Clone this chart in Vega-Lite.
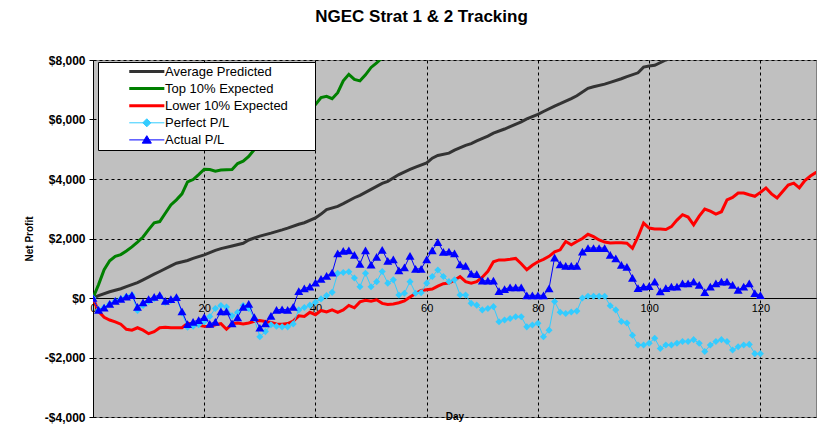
{
  "$schema": "https://vega.github.io/schema/vega-lite/v6.json",
  "width": 723,
  "height": 357,
  "autosize": {"type": "none"},
  "padding": {"left": 93, "top": 60, "right": 10, "bottom": 15},
  "background": "white",
  "config": {
    "font": "Liberation Sans",
    "view": {"fill": "#C0C0C0", "stroke": "#808080"}
  },
  "title": {
    "text": "NGEC Strat 1 & 2 Tracking",
    "fontSize": 17,
    "fontWeight": "bold",
    "color": "black",
    "dx": -33,
    "offset": 28
  },
  "datasets": {
    "average": [
      {"day": 0, "profit": 0}, {"day": 1, "profit": 80}, {"day": 3, "profit": 210}, {"day": 5, "profit": 310},
      {"day": 6, "profit": 380}, {"day": 8, "profit": 520}, {"day": 9, "profit": 610}, {"day": 11, "profit": 800},
      {"day": 12, "profit": 890}, {"day": 14, "profit": 1080}, {"day": 15, "profit": 1170}, {"day": 17, "profit": 1260},
      {"day": 18, "profit": 1330}, {"day": 20, "profit": 1450}, {"day": 22, "profit": 1600}, {"day": 23, "profit": 1660},
      {"day": 25, "profit": 1750}, {"day": 27, "profit": 1840}, {"day": 28, "profit": 1950}, {"day": 30, "profit": 2080},
      {"day": 32, "profit": 2180}, {"day": 34, "profit": 2290}, {"day": 35, "profit": 2350}, {"day": 37, "profit": 2480},
      {"day": 38, "profit": 2530}, {"day": 40, "profit": 2690}, {"day": 41, "profit": 2820}, {"day": 42, "profit": 2970},
      {"day": 44, "profit": 3080}, {"day": 45, "profit": 3170}, {"day": 47, "profit": 3370}, {"day": 48, "profit": 3450},
      {"day": 50, "profit": 3650}, {"day": 52, "profit": 3850}, {"day": 53, "profit": 3920}, {"day": 55, "profit": 4150},
      {"day": 57, "profit": 4320}, {"day": 58, "profit": 4400}, {"day": 60, "profit": 4540}, {"day": 61, "profit": 4700},
      {"day": 62, "profit": 4790}, {"day": 64, "profit": 4870}, {"day": 65, "profit": 4970}, {"day": 67, "profit": 5130},
      {"day": 68, "profit": 5190}, {"day": 69, "profit": 5280}, {"day": 71, "profit": 5440}, {"day": 72, "profit": 5540},
      {"day": 74, "profit": 5680}, {"day": 75, "profit": 5760}, {"day": 77, "profit": 5920}, {"day": 78, "profit": 6020},
      {"day": 80, "profit": 6170}, {"day": 81, "profit": 6270}, {"day": 83, "profit": 6450}, {"day": 84, "profit": 6530},
      {"day": 86, "profit": 6700}, {"day": 87, "profit": 6800}, {"day": 89, "profit": 7050}, {"day": 90, "profit": 7100},
      {"day": 92, "profit": 7190}, {"day": 93, "profit": 7250}, {"day": 95, "profit": 7370}, {"day": 96, "profit": 7440},
      {"day": 98, "profit": 7570}, {"day": 99, "profit": 7760}, {"day": 100, "profit": 7800}, {"day": 101, "profit": 7820},
      {"day": 103, "profit": 8000}, {"day": 104, "profit": 8070}, {"day": 106, "profit": 8170}
    ],
    "top": [
      {"day": 0, "profit": 0}, {"day": 1, "profit": 450}, {"day": 2, "profit": 950}, {"day": 3, "profit": 1250},
      {"day": 4, "profit": 1400}, {"day": 5, "profit": 1460}, {"day": 6, "profit": 1580}, {"day": 7, "profit": 1720},
      {"day": 8, "profit": 1880}, {"day": 9, "profit": 2050}, {"day": 10, "profit": 2300}, {"day": 11, "profit": 2530},
      {"day": 12, "profit": 2570}, {"day": 13, "profit": 2850}, {"day": 14, "profit": 3130}, {"day": 15, "profit": 3300},
      {"day": 16, "profit": 3500}, {"day": 17, "profit": 3900}, {"day": 18, "profit": 3980}, {"day": 19, "profit": 4150},
      {"day": 20, "profit": 4330}, {"day": 21, "profit": 4320}, {"day": 22, "profit": 4260}, {"day": 23, "profit": 4300},
      {"day": 24, "profit": 4310}, {"day": 25, "profit": 4320}, {"day": 26, "profit": 4520}, {"day": 27, "profit": 4600},
      {"day": 28, "profit": 4760}, {"day": 29, "profit": 4990}, {"day": 30, "profit": 5250}, {"day": 31, "profit": 5400},
      {"day": 32, "profit": 5550}, {"day": 33, "profit": 5650}, {"day": 34, "profit": 5800}, {"day": 35, "profit": 5950},
      {"day": 36, "profit": 6050}, {"day": 37, "profit": 6150}, {"day": 38, "profit": 6300}, {"day": 39, "profit": 6400},
      {"day": 40, "profit": 6500}, {"day": 41, "profit": 6740}, {"day": 42, "profit": 6780}, {"day": 43, "profit": 6700},
      {"day": 44, "profit": 6900}, {"day": 45, "profit": 7300}, {"day": 46, "profit": 7520}, {"day": 47, "profit": 7350},
      {"day": 48, "profit": 7300}, {"day": 49, "profit": 7500}, {"day": 50, "profit": 7750}, {"day": 51, "profit": 7900},
      {"day": 52, "profit": 8080}, {"day": 53, "profit": 8150}
    ],
    "lower": [
      {"day": 0, "profit": 0}, {"day": 1, "profit": -450}, {"day": 2, "profit": -650}, {"day": 3, "profit": -740},
      {"day": 4, "profit": -800}, {"day": 5, "profit": -880}, {"day": 6, "profit": -1050}, {"day": 7, "profit": -1080},
      {"day": 8, "profit": -1000}, {"day": 9, "profit": -1080}, {"day": 10, "profit": -1200}, {"day": 11, "profit": -1130},
      {"day": 12, "profit": -1000}, {"day": 13, "profit": -980}, {"day": 14, "profit": -1000}, {"day": 15, "profit": -1000},
      {"day": 16, "profit": -1000}, {"day": 17, "profit": -850}, {"day": 18, "profit": -880}, {"day": 19, "profit": -920},
      {"day": 20, "profit": -950}, {"day": 21, "profit": -960}, {"day": 22, "profit": -900}, {"day": 23, "profit": -860},
      {"day": 24, "profit": -1050}, {"day": 25, "profit": -870}, {"day": 26, "profit": -840}, {"day": 27, "profit": -870},
      {"day": 28, "profit": -840}, {"day": 29, "profit": -780}, {"day": 30, "profit": -760}, {"day": 31, "profit": -790},
      {"day": 32, "profit": -820}, {"day": 33, "profit": -870}, {"day": 34, "profit": -880}, {"day": 35, "profit": -860},
      {"day": 36, "profit": -780}, {"day": 37, "profit": -600}, {"day": 38, "profit": -620}, {"day": 39, "profit": -480},
      {"day": 40, "profit": -560}, {"day": 41, "profit": -420}, {"day": 42, "profit": -470}, {"day": 43, "profit": -400},
      {"day": 44, "profit": -480}, {"day": 45, "profit": -400}, {"day": 46, "profit": -250}, {"day": 47, "profit": -330},
      {"day": 48, "profit": -130}, {"day": 49, "profit": -80}, {"day": 50, "profit": -110}, {"day": 51, "profit": -60},
      {"day": 52, "profit": -180}, {"day": 53, "profit": -220}, {"day": 54, "profit": -200}, {"day": 55, "profit": -160},
      {"day": 56, "profit": -100}, {"day": 57, "profit": 30}, {"day": 58, "profit": 150}, {"day": 59, "profit": 250},
      {"day": 60, "profit": 280}, {"day": 61, "profit": 300}, {"day": 62, "profit": 400}, {"day": 63, "profit": 480},
      {"day": 64, "profit": 500}, {"day": 65, "profit": 600}, {"day": 66, "profit": 720}, {"day": 67, "profit": 550},
      {"day": 68, "profit": 500}, {"day": 69, "profit": 550}, {"day": 70, "profit": 700}, {"day": 71, "profit": 900},
      {"day": 72, "profit": 1220}, {"day": 73, "profit": 1280}, {"day": 74, "profit": 1280}, {"day": 75, "profit": 1300},
      {"day": 76, "profit": 1330}, {"day": 77, "profit": 1150}, {"day": 78, "profit": 950}, {"day": 79, "profit": 1100},
      {"day": 80, "profit": 1220}, {"day": 81, "profit": 1300}, {"day": 82, "profit": 1400}, {"day": 83, "profit": 1550},
      {"day": 84, "profit": 1620}, {"day": 85, "profit": 1900}, {"day": 86, "profit": 1790}, {"day": 87, "profit": 1900},
      {"day": 88, "profit": 2000}, {"day": 89, "profit": 2140}, {"day": 90, "profit": 2060}, {"day": 91, "profit": 1950},
      {"day": 92, "profit": 1880}, {"day": 93, "profit": 1850}, {"day": 94, "profit": 1860}, {"day": 95, "profit": 1860},
      {"day": 96, "profit": 1840}, {"day": 97, "profit": 1670}, {"day": 98, "profit": 2060}, {"day": 99, "profit": 2520},
      {"day": 100, "profit": 2350}, {"day": 101, "profit": 2320}, {"day": 102, "profit": 2320}, {"day": 103, "profit": 2300},
      {"day": 104, "profit": 2400}, {"day": 105, "profit": 2620}, {"day": 106, "profit": 2800}, {"day": 107, "profit": 2720},
      {"day": 108, "profit": 2460}, {"day": 109, "profit": 2750}, {"day": 110, "profit": 2990}, {"day": 111, "profit": 2920},
      {"day": 112, "profit": 2820}, {"day": 113, "profit": 2900}, {"day": 114, "profit": 3300}, {"day": 115, "profit": 3380},
      {"day": 116, "profit": 3530}, {"day": 117, "profit": 3530}, {"day": 118, "profit": 3470}, {"day": 119, "profit": 3420},
      {"day": 120, "profit": 3550}, {"day": 121, "profit": 3700}, {"day": 122, "profit": 3500}, {"day": 123, "profit": 3360},
      {"day": 124, "profit": 3580}, {"day": 125, "profit": 3800}, {"day": 126, "profit": 3860}, {"day": 127, "profit": 3700},
      {"day": 128, "profit": 3950}, {"day": 129, "profit": 4100}, {"day": 130, "profit": 4220}, {"day": 131, "profit": 4260}
    ],
    "perfect": [
      {"day": 0, "profit": 0}, {"day": 1, "profit": -400}, {"day": 2, "profit": -320}, {"day": 3, "profit": -200},
      {"day": 4, "profit": -100}, {"day": 5, "profit": -30}, {"day": 6, "profit": 50}, {"day": 7, "profit": 100},
      {"day": 8, "profit": -420}, {"day": 9, "profit": -250}, {"day": 10, "profit": -120}, {"day": 11, "profit": -20},
      {"day": 12, "profit": 60}, {"day": 13, "profit": -150}, {"day": 14, "profit": -80}, {"day": 15, "profit": 0},
      {"day": 16, "profit": -500}, {"day": 17, "profit": -980}, {"day": 18, "profit": -950}, {"day": 19, "profit": -900},
      {"day": 20, "profit": -800}, {"day": 21, "profit": -620}, {"day": 22, "profit": -350}, {"day": 23, "profit": -250},
      {"day": 24, "profit": -300}, {"day": 25, "profit": -600}, {"day": 26, "profit": -480}, {"day": 27, "profit": -250},
      {"day": 28, "profit": -350}, {"day": 29, "profit": -700}, {"day": 30, "profit": -1300}, {"day": 31, "profit": -1130},
      {"day": 32, "profit": -900}, {"day": 33, "profit": -950}, {"day": 34, "profit": -970}, {"day": 35, "profit": -970},
      {"day": 36, "profit": -870}, {"day": 37, "profit": -400}, {"day": 38, "profit": -320}, {"day": 39, "profit": -240},
      {"day": 40, "profit": -140}, {"day": 41, "profit": -30}, {"day": 42, "profit": 80}, {"day": 43, "profit": 190},
      {"day": 44, "profit": 830}, {"day": 45, "profit": 860}, {"day": 46, "profit": 880}, {"day": 47, "profit": 670},
      {"day": 48, "profit": 380}, {"day": 49, "profit": 830}, {"day": 50, "profit": 380}, {"day": 51, "profit": 550},
      {"day": 52, "profit": 890}, {"day": 53, "profit": 500}, {"day": 54, "profit": 610}, {"day": 55, "profit": 100},
      {"day": 56, "profit": 160}, {"day": 57, "profit": 550}, {"day": 58, "profit": 160}, {"day": 59, "profit": 180},
      {"day": 60, "profit": 500}, {"day": 61, "profit": 720}, {"day": 62, "profit": 940}, {"day": 63, "profit": 720},
      {"day": 64, "profit": 550}, {"day": 65, "profit": 610}, {"day": 66, "profit": 100}, {"day": 67, "profit": 100},
      {"day": 68, "profit": -180}, {"day": 69, "profit": -240}, {"day": 70, "profit": -400}, {"day": 71, "profit": -350},
      {"day": 72, "profit": -290}, {"day": 73, "profit": -800}, {"day": 74, "profit": -740}, {"day": 75, "profit": -690},
      {"day": 76, "profit": -630}, {"day": 77, "profit": -630}, {"day": 78, "profit": -970}, {"day": 79, "profit": -910},
      {"day": 80, "profit": -850}, {"day": 81, "profit": -1300}, {"day": 82, "profit": -1080}, {"day": 83, "profit": -120},
      {"day": 84, "profit": -480}, {"day": 85, "profit": -520}, {"day": 86, "profit": -470}, {"day": 87, "profit": -440},
      {"day": 88, "profit": 0}, {"day": 89, "profit": 60}, {"day": 90, "profit": 60}, {"day": 91, "profit": 60},
      {"day": 92, "profit": 60}, {"day": 93, "profit": -260}, {"day": 94, "profit": -400}, {"day": 95, "profit": -790},
      {"day": 96, "profit": -840}, {"day": 97, "profit": -1250}, {"day": 98, "profit": -1580}, {"day": 99, "profit": -1580},
      {"day": 100, "profit": -1520}, {"day": 101, "profit": -1350}, {"day": 102, "profit": -1700}, {"day": 103, "profit": -1580},
      {"day": 104, "profit": -1580}, {"day": 105, "profit": -1520}, {"day": 106, "profit": -1460}, {"day": 107, "profit": -1460},
      {"day": 108, "profit": -1400}, {"day": 109, "profit": -1520}, {"day": 110, "profit": -1800}, {"day": 111, "profit": -1580},
      {"day": 112, "profit": -1460}, {"day": 113, "profit": -1400}, {"day": 114, "profit": -1460}, {"day": 115, "profit": -1750},
      {"day": 116, "profit": -1640}, {"day": 117, "profit": -1580}, {"day": 118, "profit": -1560}, {"day": 119, "profit": -1870},
      {"day": 120, "profit": -1870}
    ],
    "actual": [
      {"day": 0, "profit": 0}, {"day": 1, "profit": -400}, {"day": 2, "profit": -320}, {"day": 3, "profit": -200},
      {"day": 4, "profit": -100}, {"day": 5, "profit": -30}, {"day": 6, "profit": 50}, {"day": 7, "profit": 100},
      {"day": 8, "profit": -300}, {"day": 9, "profit": -150}, {"day": 10, "profit": -40}, {"day": 11, "profit": 40},
      {"day": 12, "profit": 100}, {"day": 13, "profit": -100}, {"day": 14, "profit": -40}, {"day": 15, "profit": 30},
      {"day": 16, "profit": -450}, {"day": 17, "profit": -880}, {"day": 18, "profit": -800}, {"day": 19, "profit": -740},
      {"day": 20, "profit": -640}, {"day": 21, "profit": -870}, {"day": 22, "profit": -800}, {"day": 23, "profit": -450},
      {"day": 24, "profit": -450}, {"day": 25, "profit": -850}, {"day": 26, "profit": -650}, {"day": 27, "profit": -300},
      {"day": 28, "profit": -200}, {"day": 29, "profit": -640}, {"day": 30, "profit": -1000}, {"day": 31, "profit": -850},
      {"day": 32, "profit": -600}, {"day": 33, "profit": -400}, {"day": 34, "profit": -380}, {"day": 35, "profit": -400},
      {"day": 36, "profit": -300}, {"day": 37, "profit": 230}, {"day": 38, "profit": 320}, {"day": 39, "profit": 380},
      {"day": 40, "profit": 520}, {"day": 41, "profit": 640}, {"day": 42, "profit": 740}, {"day": 43, "profit": 850},
      {"day": 44, "profit": 1500}, {"day": 45, "profit": 1580}, {"day": 46, "profit": 1600}, {"day": 47, "profit": 1450},
      {"day": 48, "profit": 1150}, {"day": 49, "profit": 1600}, {"day": 50, "profit": 1120}, {"day": 51, "profit": 1380},
      {"day": 52, "profit": 1620}, {"day": 53, "profit": 1250}, {"day": 54, "profit": 1300}, {"day": 55, "profit": 930},
      {"day": 56, "profit": 1030}, {"day": 57, "profit": 1420}, {"day": 58, "profit": 980}, {"day": 59, "profit": 980},
      {"day": 60, "profit": 1300}, {"day": 61, "profit": 1600}, {"day": 62, "profit": 1880}, {"day": 63, "profit": 1550},
      {"day": 64, "profit": 1560}, {"day": 65, "profit": 1500}, {"day": 66, "profit": 1130}, {"day": 67, "profit": 1080},
      {"day": 68, "profit": 820}, {"day": 69, "profit": 800}, {"day": 70, "profit": 580}, {"day": 71, "profit": 580},
      {"day": 72, "profit": 580}, {"day": 73, "profit": 230}, {"day": 74, "profit": 300}, {"day": 75, "profit": 360},
      {"day": 76, "profit": 360}, {"day": 77, "profit": 360}, {"day": 78, "profit": 90}, {"day": 79, "profit": 90},
      {"day": 80, "profit": 90}, {"day": 81, "profit": 90}, {"day": 82, "profit": 320}, {"day": 83, "profit": 1360},
      {"day": 84, "profit": 1130}, {"day": 85, "profit": 1080}, {"day": 86, "profit": 1080}, {"day": 87, "profit": 1080},
      {"day": 88, "profit": 1560}, {"day": 89, "profit": 1680}, {"day": 90, "profit": 1680}, {"day": 91, "profit": 1680},
      {"day": 92, "profit": 1680}, {"day": 93, "profit": 1450}, {"day": 94, "profit": 1330}, {"day": 95, "profit": 1110},
      {"day": 96, "profit": 1050}, {"day": 97, "profit": 680}, {"day": 98, "profit": 330}, {"day": 99, "profit": 380},
      {"day": 100, "profit": 400}, {"day": 101, "profit": 550}, {"day": 102, "profit": 220}, {"day": 103, "profit": 330},
      {"day": 104, "profit": 380}, {"day": 105, "profit": 380}, {"day": 106, "profit": 490}, {"day": 107, "profit": 490},
      {"day": 108, "profit": 550}, {"day": 109, "profit": 440}, {"day": 110, "profit": 200}, {"day": 111, "profit": 380},
      {"day": 112, "profit": 490}, {"day": 113, "profit": 550}, {"day": 114, "profit": 550}, {"day": 115, "profit": 440},
      {"day": 116, "profit": 270}, {"day": 117, "profit": 380}, {"day": 118, "profit": 490}, {"day": 119, "profit": 160},
      {"day": 120, "profit": 100}
    ]
  },
  "encoding": {
    "x": {
      "field": "day",
      "type": "quantitative",
      "scale": {"domain": [0, 130], "nice": false, "zero": false},
      "axis": {
        "title": "Day",
        "values": [0, 20, 40, 60, 80, 100, 120],
        "offset": -119,
        "ticks": false,
        "labelFlush": false,
        "labelPadding": 4,
        "labelFontSize": 11,
        "labelColor": "black",
        "domainColor": "black",
        "grid": true,
        "gridColor": "black",
        "gridDash": [3, 3],
        "gridOpacity": 1,
        "titleFontSize": 10,
        "titleFontWeight": "bold",
        "titleColor": "black",
        "titlePadding": 98
      }
    },
    "y": {
      "field": "profit",
      "type": "quantitative",
      "scale": {"domain": [-4000, 8000], "nice": false},
      "axis": {
        "title": "Net Profit",
        "values": [-4000, -2000, 0, 2000, 4000, 6000, 8000],
        "labelExpr": "datum.value < 0 ? '-$' + format(-datum.value, ',') : '$' + format(datum.value, ',')",
        "labelFontSize": 12,
        "labelFontWeight": "bold",
        "labelColor": "black",
        "tickColor": "black",
        "tickSize": 4,
        "labelPadding": 4,
        "domainColor": "black",
        "grid": true,
        "gridColor": "black",
        "gridDash": [3, 3],
        "gridOpacity": 1,
        "titleFontSize": 10,
        "titleFontWeight": "bold",
        "titleColor": "black",
        "titlePadding": 10
      }
    }
  },
  "layer": [
    {
      "data": {"name": "average"},
      "mark": {"type": "line", "strokeWidth": 3, "clip": true},
      "encoding": {
        "color": {
          "datum": "Average Predicted",
          "type": "nominal",
          "scale": {
            "domain": ["Average Predicted", "Top 10% Expected", "Lower 10% Expected", "Perfect P/L", "Actual P/L"],
            "range": ["#333333", "#008000", "#FF0000", "#33CCFF", "#0000FF"]
          },
          "legend": {
            "title": null,
            "orient": "none",
            "legendX": 5,
            "legendY": 2,
            "zindex": 1,
            "fillColor": "white",
            "strokeColor": "black",
            "padding": 3,
            "rowPadding": 3.1,
            "symbolSize": 169,
            "symbolOffset": 38,
            "labelOffset": 13,
            "labelFontSize": 13,
            "labelColor": "black",
            "labelLimit": 300,
            "encode": {
              "symbols": {
                "update": {
                  "shape": {"signal": "datum.value === 'Perfect P/L' ? 'M-2.5,0H2.9M0.2,-0.62L0.82,0L0.2,0.62L-0.42,0ZM24.6,0' : datum.value === 'Actual P/L' ? 'M-2.5,0H2.9M0.2,-0.65L0.9,0.5L-0.5,0.5ZM24.6,0' : 'M-2.5,0H2.9M24.6,0'"},
                  "fill": {"scale": "color", "field": "value"},
                  "stroke": {"scale": "color", "field": "value"},
                  "strokeWidth": {"signal": "datum.value === 'Perfect P/L' || datum.value === 'Actual P/L' ? 1 : 3"},
                  "opacity": {"value": 1}
                }
              }
            }
          }
        }
      }
    },
    {
      "data": {"name": "top"},
      "mark": {"type": "line", "strokeWidth": 3, "clip": true},
      "encoding": {"color": {"datum": "Top 10% Expected", "type": "nominal"}}
    },
    {
      "data": {"name": "lower"},
      "mark": {"type": "line", "strokeWidth": 3, "clip": true},
      "encoding": {"color": {"datum": "Lower 10% Expected", "type": "nominal"}}
    },
    {
      "data": {"name": "perfect"},
      "mark": {"type": "line", "strokeWidth": 1, "clip": true, "point": {"shape": "diamond", "size": 50, "filled": true}},
      "encoding": {"color": {"datum": "Perfect P/L", "type": "nominal"}}
    },
    {
      "data": {"name": "actual"},
      "mark": {"type": "line", "strokeWidth": 1, "clip": true, "point": {"shape": "triangle-up", "size": 80, "filled": true}},
      "encoding": {"color": {"datum": "Actual P/L", "type": "nominal"}}
    }
  ]
}
